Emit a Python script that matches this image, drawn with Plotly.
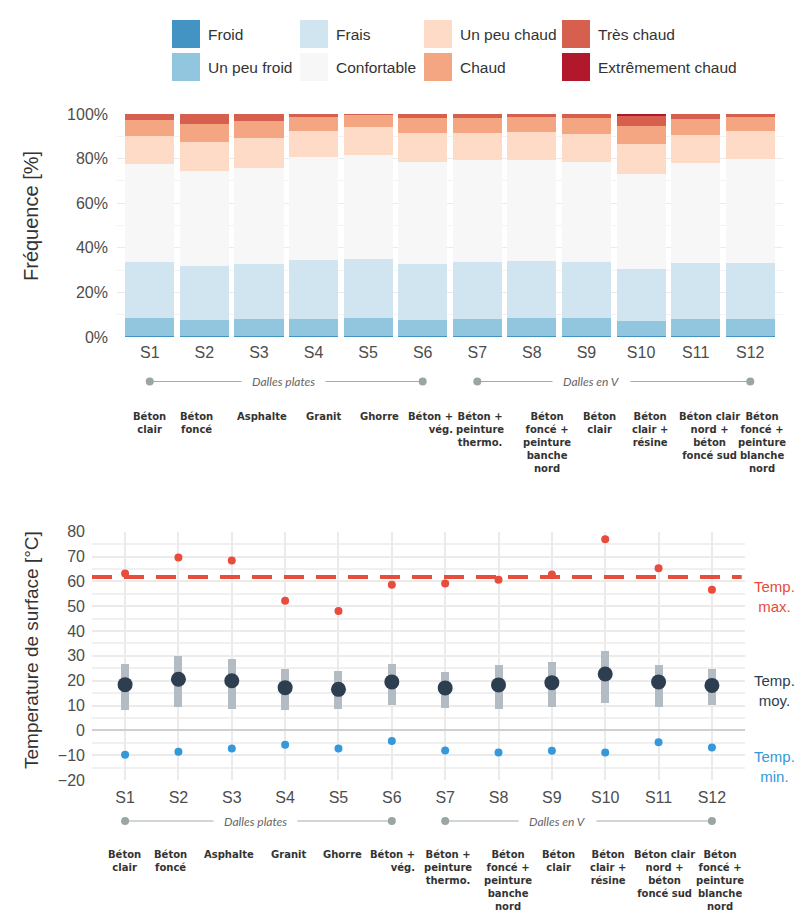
import numpy as np
import plotly.graph_objects as go

W, H = 803, 921

# ---------------- DATA ----------------
sites = ["S1", "S2", "S3", "S4", "S5", "S6", "S7", "S8", "S9", "S10", "S11", "S12"]
materials = ["Béton<br>clair", "Béton<br>foncé", "Asphalte", "Granit", "Ghorre",
             "Béton +<br>vég.", "Béton +<br>peinture<br>thermo.",
             "Béton<br>foncé +<br>peinture<br>banche<br>nord", "Béton<br>clair",
             "Béton<br>clair +<br>résine", "Béton clair<br>nord +<br>béton<br>foncé sud",
             "Béton<br>foncé +<br>peinture<br>blanche<br>nord"]
groups = ["Dalles plates", "Dalles en V"]

classes = ["Froid", "Un peu froid", "Frais", "Confortable",
           "Un peu chaud", "Chaud", "Très chaud", "Extrêmement chaud"]
class_colors = ["#4393c3", "#92c5de", "#d1e5f0", "#f7f7f7",
                "#fddbc7", "#f4a582", "#d6604d", "#b2182b"]

# frequency [%] per class, one value per site
froid          = [0.3, 0.3, 0.3, 0.3, 0.3, 0.3, 0.3, 0.3, 0.3, 0.3, 0.3, 0.3]
un_peu_froid   = [8.2, 7.4, 7.9, 7.9, 8.3, 7.4, 7.9, 8.3, 8.2, 7.1, 7.7, 7.7]
frais          = [25.0, 24.0, 24.5, 26.2, 26.2, 25.0, 25.3, 25.6, 25.0, 23.1, 25.0, 25.0]
confortable    = [44.2, 42.7, 43.3, 46.1, 47.0, 46.0, 46.0, 45.3, 44.9, 42.6, 45.1, 46.8]
un_peu_chaud   = [12.3, 13.0, 13.3, 11.9, 12.5, 13.0, 12.2, 12.3, 12.8, 13.4, 12.4, 12.5]
chaud          = [7.5, 8.1, 7.4, 6.4, 5.4, 6.5, 6.4, 6.7, 6.9, 8.1, 7.4, 6.2]
tres_chaud     = [2.5, 4.5, 3.3, 1.2, 0.3, 1.8, 1.9, 1.5, 1.9, 4.7, 2.1, 1.5]
extr_chaud     = [0.0, 0.0, 0.0, 0.0, 0.0, 0.0, 0.0, 0.0, 0.0, 0.7, 0.0, 0.0]
freq = [froid, un_peu_froid, frais, confortable, un_peu_chaud, chaud, tres_chaud, extr_chaud]
freq_ticks = [0, 20, 40, 60, 80, 100]

# surface temperature [°C]
t_max  = [63.2, 69.6, 68.4, 52.2, 48.1, 58.6, 59.1, 60.6, 62.8, 77.0, 65.3, 56.6]
t_mean = [18.4, 20.6, 20.0, 17.2, 16.5, 19.5, 17.1, 18.3, 19.2, 22.7, 19.5, 18.1]
t_high = [26.9, 30.0, 28.8, 24.6, 23.9, 26.6, 23.3, 26.3, 27.7, 32.1, 26.5, 24.9]
t_low  = [8.3, 9.5, 8.6, 8.2, 8.6, 10.2, 8.9, 8.6, 9.3, 11.0, 9.3, 10.1]
t_min  = [-9.8, -8.6, -7.3, -5.8, -7.3, -4.3, -8.1, -8.9, -8.2, -8.9, -4.8, -6.9]

# ---------------- layout constants (pixels) ----------------
TOP_LABEL_X = [149, 196, 262, 323, 379, 433, 480, 547, 599, 650, 709, 762]
BOT_LABEL_X = [124, 170, 229, 288, 342, 395, 448, 508, 558, 608, 664, 720]


def px(x):
    return x / W


def py(y):
    return 1 - y / H


SANS = "Liberation Sans, Arial, sans-serif"
TICKFONT = dict(family=SANS, size=16, color="#4d4d4d")
GRID = "#ebebeb"
RED, NAVY, BLUE = "#e74c3c", "#2c3e50", "#3498db"

fig = go.Figure()

# ---------------- top: stacked bars ----------------
for name, col, vals in zip(classes, class_colors, freq):
    fig.add_trace(go.Bar(x=sites, y=vals, name=name, marker=dict(color=col, line=dict(width=0)),
                         xaxis="x", yaxis="y", showlegend=False))

# ---------------- bottom: temperatures ----------------
fig.add_trace(go.Bar(x=sites, y=np.array(t_high) - np.array(t_low), base=t_low, width=0.15,
                     marker=dict(color="#b3bbc3", line=dict(width=0)),
                     xaxis="x2", yaxis="y2", showlegend=False))
fig.add_trace(go.Scatter(x=sites, y=t_mean, mode="markers", marker=dict(color=NAVY, size=15),
                         xaxis="x2", yaxis="y2", showlegend=False))
fig.add_trace(go.Scatter(x=sites, y=t_max, mode="markers", marker=dict(color=RED, size=8),
                         xaxis="x2", yaxis="y2", showlegend=False))
fig.add_trace(go.Scatter(x=sites, y=t_min, mode="markers", marker=dict(color=BLUE, size=8),
                         xaxis="x2", yaxis="y2", showlegend=False))

max_avg = float(np.mean(t_max))

shapes = []
annotations = []

# dashed average max line
shapes.append(dict(type="line", xref="x2 domain", yref="y2", x0=0, x1=0.995,
                   y0=max_avg, y1=max_avg, line=dict(color=RED, width=4, dash="20px,12px"),
                   layer="above"))

# right-side labels
for txt, col, yy in [("Temp.<br>max.", RED, 596), ("Temp.<br>moy.", NAVY, 690), ("Temp.<br>min.", BLUE, 766)]:
    annotations.append(dict(text=txt, x=px(774), y=py(yy), xref="paper", yref="paper",
                            xanchor="center", yanchor="middle",
                            showarrow=False, align="center",
                            font=dict(family=SANS, size=15, color=col)))

# y titles
annotations.append(dict(text="Fréquence [%]", x=px(31), y=py(216), xref="paper", yref="paper",
                        xanchor="center", yanchor="middle", textangle=-90, showarrow=False,
                        font=dict(family=SANS, size=20, color="#333")))
annotations.append(dict(text="Temperature de surface [°C]", x=px(31), y=py(650), xref="paper", yref="paper",
                        xanchor="center", yanchor="middle", textangle=-90, showarrow=False,
                        font=dict(family=SANS, size=19, color="#333")))


# group lines + material labels for both panels
def add_groups(xref, line_y, label_top, label_x):
    idx_groups = [(0, 5, 2.45, groups[0]), (6, 11, 8.1, groups[1])]
    for a, b, mid, g in idx_groups:
        shapes.append(dict(type="line", xref=xref, yref="paper", x0=a, x1=b,
                           y0=py(line_y), y1=py(line_y), line=dict(color="#a0abab", width=1)))
        for k in (a, b):
            shapes.append(dict(type="circle", xref=xref, yref="paper", xsizemode="pixel",
                               ysizemode="pixel", xanchor=k, yanchor=py(line_y),
                               x0=-4, x1=4, y0=-4, y1=4,
                               fillcolor="#9aa5a5", line=dict(width=0)))
        annotations.append(dict(text="<i>" + g + "</i>", x=mid, y=py(line_y), xref=xref, yref="paper",
                                xanchor="center", yanchor="middle",
                                showarrow=False, bgcolor="white", borderpad=10,
                                font=dict(family="Lato, sans-serif", size=12, color="#666")))
    for i, m in enumerate(materials):
        xa, al, xx = "center", "center", px(label_x[i])
        if i == 5:
            xa, al, xx = "right", "right", px(label_x[i] + 22)
        annotations.append(dict(text="<b>" + m + "</b>", x=xx, y=py(label_top),
                                xref="paper", yref="paper", xanchor=xa, yanchor="top",
                                align=al, showarrow=False,
                                font=dict(family="DejaVu Sans, sans-serif", size=10, color="#333")))


add_groups("x", 381.5, 409, TOP_LABEL_X)
add_groups("x2", 821, 847, BOT_LABEL_X)

# manual legend
col_x = [172, 300, 424, 562]
row_y = [20, 53]
for k, (name, col) in enumerate(zip(classes, class_colors)):
    cx = col_x[k // 2]
    ry = row_y[k % 2]
    shapes.append(dict(type="rect", xref="paper", yref="paper",
                       x0=px(cx), x1=px(cx + 28), y0=py(ry + 28), y1=py(ry),
                       fillcolor=col, line=dict(width=0)))
    annotations.append(dict(text=name, x=px(cx + 34), y=py(ry + 14), xref="paper", yref="paper",
                            xanchor="left", yanchor="middle", showarrow=False,
                            font=dict(family=SANS, size=15.5, color="#333")))

fig.update_layout(
    width=W, height=H, margin=dict(l=0, r=0, t=0, b=0),
    paper_bgcolor="white", plot_bgcolor="white",
    barmode="stack", bargap=0.1,
    shapes=shapes, annotations=annotations,
    xaxis=dict(domain=[px(117), px(783)], range=[-0.6, 11.6], type="category",
               categoryorder="array", categoryarray=sites,
               showgrid=False, zeroline=False, showline=False, ticks="",
               tickfont=TICKFONT, anchor="y", automargin=False, ticklabelstandoff=4),
    yaxis=dict(domain=[py(337), py(114)], range=[0, 100], tickmode="array",
               tickvals=freq_ticks, ticktext=[f"{v}%" for v in freq_ticks],
               showgrid=True, gridcolor=GRID, gridwidth=1,
               minor=dict(dtick=10, showgrid=True, gridcolor="#f3f3f3"),
               zeroline=False, showline=False, ticks="", tickfont=TICKFONT,
               anchor="x", automargin=False, ticklabelstandoff=8),
    xaxis2=dict(domain=[px(92), px(745)], range=[-0.62, 11.62], type="category",
                categoryorder="array", categoryarray=sites,
                showgrid=True, gridcolor=GRID, gridwidth=1.5, zeroline=False, showline=False,
                ticks="", tickfont=TICKFONT, anchor="y2", automargin=False, ticklabelstandoff=6),
    yaxis2=dict(domain=[py(780), py(531.7)], range=[-20, 80], dtick=10,
                showgrid=True, gridcolor=GRID, gridwidth=1.5,
                minor=dict(dtick=5, showgrid=True, gridcolor="#f0f0f0"),
                zeroline=True, zerolinecolor="#d0d0d0", zerolinewidth=2,
                showline=False, ticks="", tickfont=TICKFONT, anchor="x2", automargin=False,
                ticklabelstandoff=6),
)

fig.write_html("out.html", config={"displayModeBar": False},
               post_script="document.body.style.margin='0';document.body.style.padding='0';"
                           "document.body.style.overflow='hidden';")
